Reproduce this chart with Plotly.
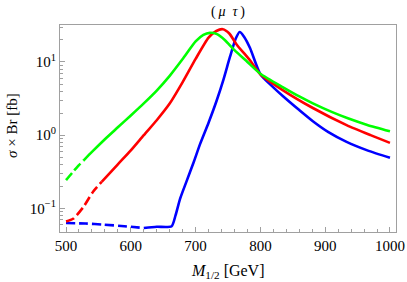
import plotly.graph_objects as go

# ---- data ----
green_dash_x = [500, 510, 520, 527]
green_dash_y = [0.243, 0.31, 0.39, 0.45]
green_x = [527, 540, 560, 580, 600, 620, 640, 660, 680, 700, 712, 722, 733, 745, 760, 780, 800, 835, 860, 881, 910, 935, 965, 1000]
green_y = [0.45, 0.59, 0.88, 1.28, 1.86, 2.72, 4.07, 6.46, 10.96, 19.05, 23.4, 25.0, 24.0, 20.0, 14.5, 10.0, 6.9, 4.5, 3.38, 2.72, 2.08, 1.70, 1.38, 1.13]

red_dash_x = [500, 511, 527, 542, 555]
red_dash_y = [0.066, 0.072, 0.105, 0.17, 0.23]
red_x = [555, 580, 600, 620, 640, 660, 680, 700, 720, 732, 742, 752, 763, 784, 800, 835, 881, 933, 970, 1000]
red_y = [0.23, 0.40, 0.62, 1.0, 1.6, 2.7, 5.3, 11.0, 21.5, 26.5, 28.0, 24.5, 17.5, 10.5, 6.8, 4.1, 2.35, 1.37, 1.0, 0.785]

blue_dash_x = [500, 530, 558, 590, 620]
blue_dash_y = [0.063, 0.062, 0.060, 0.057, 0.054]
blue_x = [620, 640, 663, 669, 676, 686, 697, 707, 720, 732, 743, 753, 762, 768, 775, 784, 800, 820, 835, 860, 881, 905, 933, 965, 1000]
blue_y = [0.054, 0.056, 0.057, 0.08, 0.135, 0.234, 0.427, 0.76, 1.48, 2.88, 5.75, 11.7, 20.9, 25.7, 22.0, 15.5, 6.8, 4.5, 3.4, 2.2, 1.55, 1.1, 0.81, 0.62, 0.49]

x_ticks = [500, 600, 700, 800, 900, 1000]
y_ticks = [0.1, 1, 10]
y_ticktext = ["10<sup>\u22121</sup>", "10<sup>0</sup>", "10<sup>1</sup>"]
y_minor = [0.06, 0.07, 0.08, 0.09, 0.2, 0.3, 0.4, 0.5, 0.6, 0.7, 0.8, 0.9,
           2, 3, 4, 5, 6, 7, 8, 9, 20, 30]

GREEN = "#00ff00"
RED = "#ff0000"
BLUE = "#0000ff"
FRAME = "#a0a0a0"
W = 2.6
DASH = "9px,4px"

fig = go.Figure()
for xs, ys, c, d in [
    (blue_dash_x, blue_dash_y, BLUE, DASH),
    (blue_x, blue_y, BLUE, "solid"),
    (red_dash_x, red_dash_y, RED, DASH),
    (red_x, red_y, RED, "solid"),
    (green_dash_x, green_dash_y, GREEN, DASH),
    (green_x, green_y, GREEN, "solid"),
]:
    fig.add_trace(go.Scatter(x=xs, y=ys, mode="lines",
                             line=dict(color=c, width=W, dash=d, shape="spline", smoothing=0.6),
                             showlegend=False, hoverinfo="skip"))

font = "Liberation Serif"
fig.update_layout(
    width=407, height=282,
    margin=dict(l=60, r=11, t=25, b=50),
    paper_bgcolor="white", plot_bgcolor="white",
    font=dict(family=font, size=15, color="black"),
    annotations=[
        dict(text="(\u2009<i>\u03bc</i>\u2002<i>\u03c4</i>\u2009)", x=0.5, y=1.063, xref="paper", yref="paper",
             xanchor="center", yanchor="middle", showarrow=False, font=dict(family=font, size=14)),
        dict(text="<i>M</i><sub>1/2</sub> [GeV]", x=0.5, y=-0.19, xref="paper", yref="paper",
             xanchor="center", yanchor="middle", showarrow=False, font=dict(family=font, size=16)),
        dict(text="<i>\u03c3</i> \u00d7 Br [fb]", x=-0.143, y=0.517, xref="paper", yref="paper",
             xanchor="center", yanchor="middle", showarrow=False, textangle=-90, font=dict(family=font, size=15)),
    ],
)
fig.update_xaxes(
    range=[490.7, 1009.3], tickvals=x_ticks, ticks="inside", ticklen=5,
    tickcolor=FRAME, showline=True, linecolor=FRAME, linewidth=1,
    mirror=True, showgrid=False, zeroline=False, automargin=False,
    tickfont=dict(family=font, size=15, color="black"),
    minor=dict(dtick=20, tick0=500, ticks="inside", ticklen=3, tickcolor=FRAME, showgrid=False),
)
fig.update_yaxes(
    type="log", range=[-1.323, 1.505], tickvals=y_ticks, ticktext=y_ticktext,
    ticks="inside", ticklen=5, tickcolor=FRAME, showline=True,
    linecolor=FRAME, linewidth=1, mirror=True, showgrid=False, zeroline=False,
    automargin=False, tickfont=dict(family=font, size=15, color="black"),
    minor=dict(tickvals=y_minor, ticks="inside", ticklen=3, tickcolor=FRAME, showgrid=False),
)
fig.write_html("out.html", config={"displayModeBar": False},
               post_script="document.body.style.margin='0';document.body.style.overflow='hidden';")
